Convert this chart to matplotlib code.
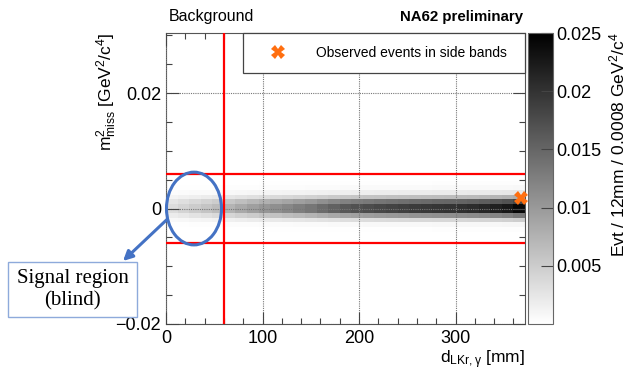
import numpy as np
import matplotlib.pyplot as plt
from matplotlib.colors import LinearSegmentedColormap
from matplotlib.patches import Ellipse, Rectangle
from matplotlib.lines import Line2D

plt.rcParams['font.family'] = 'Liberation Sans'
plt.rcParams['mathtext.fontset'] = 'custom'
plt.rcParams['mathtext.rm'] = 'Liberation Sans'
plt.rcParams['mathtext.it'] = 'Liberation Sans:italic'

# 2D histogram: 12 mm bins in d, 0.0008 bins in m2miss
x_edges = np.arange(0, 373, 12)
y_edges = [-0.0040, -0.0032, -0.0024, -0.0016, -0.0008, 0.0, 0.0008, 0.0016, 0.0024,
           0.0032, 0.0040, 0.0048]
# peak content of each 12 mm column
col_peak = [0.0035, 0.0042, 0.005, 0.0058, 0.0066, 0.0074, 0.0084, 0.0094, 0.0103, 0.011,
            0.0118, 0.0126, 0.0134, 0.0145, 0.0155, 0.0165, 0.017, 0.0175, 0.018, 0.0184,
            0.0188, 0.0192, 0.0195, 0.0198, 0.02, 0.0203, 0.0207, 0.0212, 0.0218, 0.0226, 0.0242]
# relative vertical shape of the band (one value per m2miss row)
row_frac = [0.01, 0.04, 0.2, 0.55, 1.0, 1.0, 0.75, 0.33, 0.1, 0.03, 0.01]

obs_x = [368]
obs_y = [0.0018]

d_cut = 60
m2_band = 0.006

H = np.outer(row_frac, col_peak)

fig = plt.figure(figsize=(6.29, 3.71), dpi=100)
ax = fig.add_axes([166/629, 47/371, 359/629, 291/371])
cax = fig.add_axes([527.5/629, 47/371, 25/629, 291/371])

cmap = LinearSegmentedColormap.from_list('root_grey', ['white', 'black'])
mesh = ax.pcolormesh(x_edges, y_edges, H, cmap=cmap, vmin=0, vmax=0.025, zorder=0.5)

ax.set_xlim(0, 372)
ax.set_ylim(-0.02, 0.0304)

ax.set_xticks([0, 100, 200, 300])
ax.set_xticks(np.arange(0, 372, 20), minor=True)
ax.set_yticks([-0.02, 0, 0.02])
ax.set_yticklabels(['\u22120.02', '0', '0.02'])
ax.set_yticks(np.arange(-0.02, 0.031, 0.005), minor=True)
ax.tick_params(which='both', direction='in', top=True, right=True, colors='#444444',
               labelcolor='black', labelsize=13)
ax.tick_params(which='major', length=9, width=0.8)
ax.tick_params(which='minor', length=4.5, width=0.8)
ax.tick_params(axis='x', pad=4)
for s in ax.spines.values():
    s.set_color('#555555')
    s.set_linewidth(0.8)

ax.grid(True, which='major', linestyle=(0, (1, 1)), color='#777777', linewidth=0.8)
ax.set_axisbelow(False)

# cut lines
ax.axvline(d_cut, color='red', lw=1.6, zorder=3)
ax.axhline(m2_band, color='red', lw=1.6, zorder=3)
ax.axhline(-m2_band, color='red', lw=1.6, zorder=3)

# observed events
ax.plot(obs_x, obs_y, linestyle='none', marker='X', color='#ff6f10', markersize=10,
        markeredgewidth=0, clip_on=False, zorder=6)

# legend
h = Line2D([], [], linestyle='none', marker='X', color='#ff6f10', markersize=10, markeredgewidth=0)
leg = ax.legend([h], ['Observed events in side bands'], loc='upper left',
                bbox_to_anchor=(0.2145, 0.0, 0.7855, 1.0), mode='expand',
                fontsize=10, frameon=True, fancybox=False, framealpha=1,
                edgecolor='#444444', borderpad=0.95, handlelength=3.2,
                handletextpad=1.1, borderaxespad=0)
leg.get_frame().set_linewidth(0.9)
leg.set_zorder(7)

# signal region
ell = Ellipse((29, 0.0), 57, 0.0126, fill=False, edgecolor='#4472c4', lw=2.2,
              clip_on=False, zorder=8)
ax.add_patch(ell)
ax.annotate('', xy=(123, 110), xycoords='figure pixels',
            xytext=(1, -0.0019), textcoords='data',
            arrowprops=dict(arrowstyle='-|>', color='#4472c4', lw=2.2,
                            mutation_scale=14, shrinkA=0, shrinkB=0),
            annotation_clip=False, zorder=8)
fig.patches.append(Rectangle((8/629, 54/371), 129/629, 55/371, transform=fig.transFigure,
                             facecolor='white', edgecolor='#8eaadb', lw=1.0, zorder=9))
fig.text(72.5/629, 81.5/371, 'Signal region\n(blind)', family='Liberation Serif',
         fontsize=15, ha='center', va='center', linespacing=1.2, zorder=10)

# labels
ax.set_xlabel(r'$\mathrm{d_{LKr,\gamma}}$ [mm]', fontsize=12.5, loc='right', labelpad=1.5)
ax.set_ylabel(r'$\mathrm{m^{2}_{miss}}$ [GeV$^{2}$/c$^{4}$]', fontsize=12.5, loc='top')
ax.yaxis.set_label_coords(-0.13, 1.0)

fig.text(169/629, 1 - 20.5/371, 'Background', fontsize=11.5, ha='left', va='baseline')
fig.text(523/629, 1 - 20.5/371, 'NA62 preliminary', fontsize=10.8, fontweight='bold',
         ha='right', va='baseline')

cb = fig.colorbar(mesh, cax=cax)
cb.set_ticks([0.005, 0.01, 0.015, 0.02, 0.025])
cb.set_ticklabels(['0.005', '0.01', '0.015', '0.02', '0.025'])
cax.tick_params(direction='in', length=9, width=0.8, colors='#444444', labelcolor='black',
                labelsize=13, pad=3)
cb.outline.set_edgecolor('#666666')
cb.outline.set_linewidth(0.8)
fig.text(627/629, 1 - 32/371, r'Evt / 12mm / 0.0008 GeV$^{2}$/c$^{4}$', fontsize=12.5,
         rotation=90, ha='right', va='top')

fig.savefig('out.png', dpi=100)
